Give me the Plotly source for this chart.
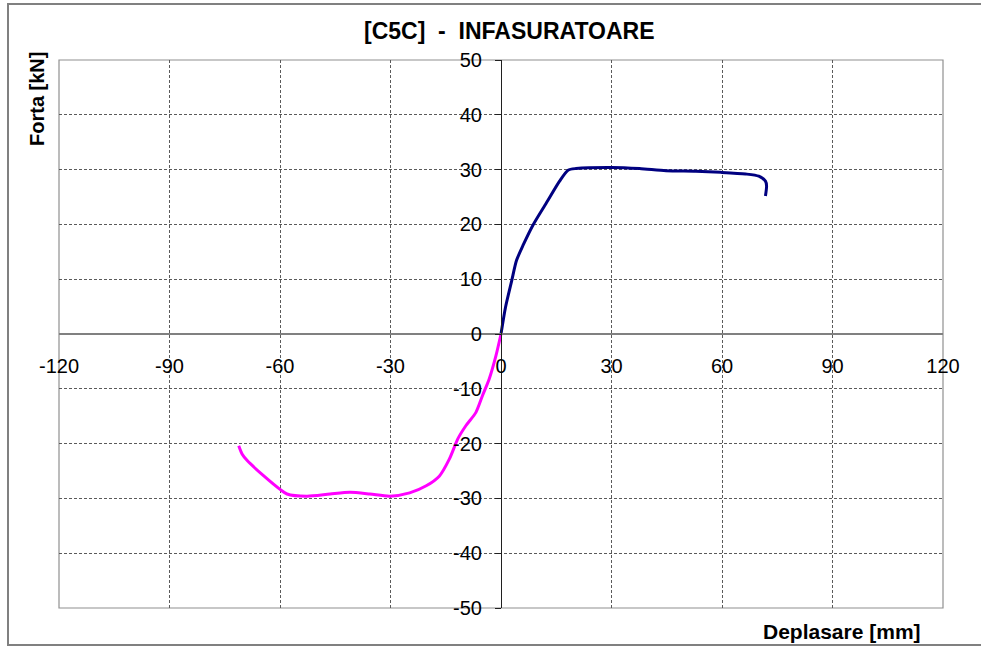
import plotly.graph_objects as go

# Positive branch (blue)
pos_x = [0, 1.2, 2.9, 4.2, 6.0, 8.7, 12.3, 15.9, 18.2, 20.4, 30.0, 37.6, 44.8, 52.9, 59.7, 66.4, 70.0, 71.8, 72.1, 71.8]
pos_y = [0, 4.8, 9.7, 13.4, 16.2, 19.9, 23.9, 27.9, 29.9, 30.2, 30.4, 30.2, 29.8, 29.7, 29.5, 29.2, 28.8, 27.9, 27.0, 25.2]

# Negative branch (magenta)
neg_x = [0, -1.35, -3.2, -5.0, -6.8, -9.5, -11.7, -14.0, -16.7, -20.3, -24.8, -30.2, -35.6, -41.0, -46.4, -52.7, -58.1, -59.9, -64.4, -68.9, -70.3, -71.2]
neg_y = [0, -3.9, -8.2, -11.2, -14.3, -16.7, -19.1, -22.8, -25.9, -27.7, -29.0, -29.6, -29.2, -28.9, -29.2, -29.6, -29.2, -28.4, -25.9, -23.1, -21.9, -20.4]

x_ticks = [-120, -90, -60, -30, 0, 30, 60, 90, 120]
x_labels = ["-120", "-90", "-60", "-30", "0", "30", "60", "90", "120"]
y_ticks = [-50, -40, -30, -20, -10, 0, 10, 20, 30, 40, 50]
y_labels = ["-50", "-40", "-30", "-20", "-10", "0", "10", "20", "30", "40", "50"]

W, H = 981, 647
L, R, T, B = 59, 943, 60, 608
xdom = [L / W, R / W]
ydom = [1 - B / H, 1 - T / H]
x0_px = L + (0 - (-120)) / 240 * (R - L)
y0_px = T + (50 - 0) / 100 * (B - T)

FONT = "Arial, Liberation Sans, sans-serif"
GRID = "#5a5a5a"

fig = go.Figure()
fig.add_trace(go.Scatter(x=neg_x, y=neg_y, mode="lines",
                         line=dict(color="#ff00ff", width=3, shape="spline", smoothing=0.7),
                         showlegend=False))
fig.add_trace(go.Scatter(x=pos_x, y=pos_y, mode="lines",
                         line=dict(color="#000080", width=3, shape="spline", smoothing=0.7),
                         showlegend=False))

fig.update_layout(
    width=W, height=H,
    margin=dict(l=0, r=0, t=0, b=0, autoexpand=False),
    paper_bgcolor="white", plot_bgcolor="white",
    font=dict(family=FONT, size=20, color="black"),
    xaxis=dict(domain=xdom, range=[-120, 120], tickvals=x_ticks, ticktext=x_labels,
               anchor="free", position=1 - y0_px / H, automargin=False,
               showline=True, linecolor="#808080", linewidth=1.5,
               zeroline=False, showgrid=True, gridcolor=GRID, griddash="3px,2px", gridwidth=1,
               ticks="outside", ticklen=0, tickcolor="#808080", ticklabelstandoff=14,
               tickfont=dict(family=FONT, size=20, color="black")),
    yaxis=dict(domain=ydom, range=[-50, 50], tickvals=y_ticks, ticktext=y_labels,
               anchor="free", position=x0_px / W, automargin=False,
               showline=True, linecolor="#202020", linewidth=1.2,
               zeroline=False, showgrid=True, gridcolor=GRID, griddash="3px,2px", gridwidth=1,
               ticks="outside", ticklen=6, tickcolor="#202020", ticklabelstandoff=9,
               tickfont=dict(family=FONT, size=20, color="black")),
    shapes=[
        dict(type="rect", xref="paper", yref="paper", x0=xdom[0], x1=xdom[1], y0=ydom[0], y1=ydom[1],
             line=dict(color="#909090", width=1.2), layer="below"),
        dict(type="rect", xref="paper", yref="paper", x0=8 / W, x1=1.02, y0=1 - 645 / H, y1=1 - 4 / H,
             line=dict(color="#808080", width=2)),
    ],
    annotations=[
        dict(text="<b>[C5C]\u00a0\u00a0-\u00a0\u00a0INFASURATOARE</b>", xref="paper", yref="paper",
             x=510 / W, y=1 - 31 / H, showarrow=False, xanchor="center", yanchor="middle",
             font=dict(family=FONT, size=23, color="black")),
        dict(text="<b>Forta [kN]</b>", xref="paper", yref="paper",
             x=37 / W, y=1 - 99 / H, showarrow=False, textangle=-90, xanchor="center", yanchor="middle",
             font=dict(family=FONT, size=20, color="black")),
        dict(text="<b>Deplasare [mm]</b>", xref="paper", yref="paper",
             x=842 / W, y=1 - 631 / H, showarrow=False, xanchor="center", yanchor="middle",
             font=dict(family=FONT, size=21, color="black")),
    ],
)

fig.write_html("out.html")
